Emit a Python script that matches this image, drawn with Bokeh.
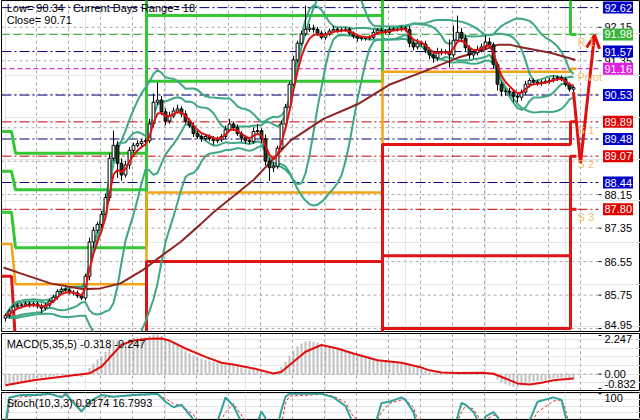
import numpy as np
from bokeh.plotting import figure
from bokeh.layouts import column
from bokeh.models import Range1d, Label, ColumnDataSource, Arrow, OpenHead
from bokeh.core.properties import value
from bokeh.embed import file_html
from bokeh.resources import INLINE

FONT = "Liberation Sans"

# ---------------- price data (one bar every 4 px in the reference) ----------------
first_open = 85.20
closes = [
    85.26, 85.37, 85.47, 85.51, 85.51, 85.54, 85.51, 85.54, 85.49, 85.44,
    85.51, 85.61, 85.70, 85.84, 85.89, 85.87, 85.82, 85.80, 85.73, 85.68,
    86.20, 87.02, 87.30, 87.44, 87.68, 88.08, 89.02, 89.33, 88.90, 88.62,
    88.86, 89.21, 89.33, 89.37, 89.42, 89.44, 89.84, 90.36, 90.41, 90.13,
    89.91, 90.03, 90.15, 90.20, 90.08, 89.91, 89.80, 89.61, 89.54, 89.49,
    89.54, 89.49, 89.44, 89.46, 89.54, 89.70, 89.84, 89.75, 89.61, 89.51,
    89.44, 89.42, 89.66, 89.68, 89.49, 88.95, 88.79, 88.83, 89.26, 89.84,
    90.24, 90.79, 91.37, 91.77, 91.99, 92.10, 92.13, 92.10, 92.01, 91.91,
    91.99, 92.06, 92.10, 92.08, 92.08, 92.10, 92.01, 91.94, 91.89, 91.89,
    91.89, 91.91, 92.03, 92.08, 92.06, 92.03, 92.10, 92.10, 92.10, 92.13,
    92.10, 91.77, 91.68, 91.77, 91.75, 91.61, 91.49, 91.42, 91.54, 91.56,
    91.56, 91.49, 91.84, 92.03, 91.89, 91.66, 91.49, 91.54, 91.61, 91.68,
    91.80, 91.73, 91.26, 90.79, 90.62, 90.62, 90.60, 90.50, 90.48, 90.60,
    90.79, 90.88, 90.84, 90.81, 90.84, 90.86, 90.88, 90.93, 90.95, 90.91,
    90.79, 90.67, 90.71]
wick_up = [
    .05, .04, .06, .05, .04, .05, .05, .04, .05, .06,
    .05, .04, .06, .05, .05, .04, .04, .05, .06, .05,
    .06, .10, .08, .06, .08, .10, .12, .35, .10, .12,
    .10, .08, .06, .08, .06, .06, .12, .20, .42, .10,
    .08, .10, .08, .10, .06, .08, .06, .08, .06, .05,
    .06, .05, .06, .08, .06, .10, .12, .06, .08, .06,
    .05, .06, .10, .15, .06, .10, .08, .10, .06, .08,
    .08, .06, .10, .06, .08, .57, .10, .08, .06, .06,
    .05, .06, .08, .05, .06, .06, .05, .04, .05, .04,
    .04, .05, .06, .05, .06, .05, .06, .05, .04, .06,
    .05, .08, .06, .10, .06, .08, .06, .10, .12, .08,
    .06, .30, .35, .40, .10, .08, .06, .06, .10, .08,
    .15, .10, .06, .06, .06, .06, .08, .06, .06, .06,
    .08, .06, .05, .06, .05, .05, .06, .08, .05, .05,
    .05, .04, .05]
wick_dn = [
    .08, .06, .05, .05, .06, .05, .06, .05, .06, .12,
    .06, .05, .05, .06, .05, .04, .05, .06, .05, .05,
    .06, .10, .15, .06, .10, .06, .08, .06, .35, .14,
    .06, .10, .06, .05, .06, .05, .06, .08, .06, .08,
    .10, .06, .05, .06, .08, .06, .05, .08, .06, .08,
    .05, .06, .10, .06, .05, .06, .05, .08, .06, .10,
    .08, .06, .05, .06, .10, .10, .31, .10, .06, .05,
    .06, .06, .05, .06, .05, .05, .06, .08, .06, .05,
    .06, .05, .05, .06, .05, .04, .05, .06, .08, .06,
    .06, .05, .04, .05, .06, .05, .05, .04, .05, .05,
    .05, .10, .08, .06, .05, .08, .10, .12, .08, .06,
    .06, .30, .06, .06, .10, .08, .10, .08, .06, .06,
    .06, .06, .10, .15, .12, .10, .08, .14, .12, .08,
    .06, .08, .06, .06, .06, .05, .06, .05, .06, .05,
    .06, .06, .08]

# long moving average: bar position, price
ma_bar = [-0.5, 3.75, 11.25, 19.5, 23.75, 28.75, 34.5, 38.75, 43.75, 48.75, 52, 62,
          71.25, 79.5, 88, 96.25, 104.5, 113, 118, 123, 126.25, 129.5, 136.25, 142.5]
ma_val = [86.41, 86.27, 86.03, 85.89, 85.91, 86.03, 86.36, 86.67, 87.02, 87.44, 87.73, 88.50,
          89.44, 89.96, 90.31, 90.79, 91.09, 91.42, 91.56, 91.73, 91.73, 91.66, 91.54, 91.37]

# daily pivot levels
day_start = [-1.5, 2.5, 35.25, 94.25, 141.25]
day_end = [1.5, 35.25, 94.25, 141.25, 142.75]
r3 = [89.66, 89.14, 95.17, 98.15, 94.07]
r2 = [88.71, 88.27, 92.43, 95.49, 93.25]
r1 = [87.73, 86.88, 90.86, 93.75, 91.98]
pp = [86.97, 86.01, 88.20, 91.09, 91.16]
s1 = [86.20, 84.62, 86.55, 89.35, 89.89]
s2 = [84.60, 83.75, 83.89, 86.69, 89.07]
s3 = [83.80, 82.88, 82.24, 84.95, 87.80]

# horizontal level lines with tags on the price scale
tag_vals = [92.62, 91.98, 91.57, 91.16, 90.53, 89.89, 89.48, 89.07, 88.44, 87.80]
tag_kind = ["mid", "r", "mid", "p", "mid", "s", "mid", "s", "mid", "s"]
lvl_names = ["R 1", "Pivot", "S 1", "S 2", "S 3"]
lvl_vals = [91.98, 91.16, 89.89, 89.07, 87.80]

# projected move arrow
fc_bar = [142, 143.75, 147.25]
fc_price = [90.60, 88.90, 91.96]

price_labels = [92.15, 91.35, 88.15, 87.35, 86.55, 85.75]
price_bottom_label = [84.95]
price_grid = [92.15, 91.35, 90.55, 89.75, 88.95, 88.15, 87.35, 86.55, 85.75, 84.95]

# MACD(5,35,5)
macd_hist = [
    -0.66, -0.62, -0.58, -0.52, -0.48, -0.42, -0.36, -0.30, -0.26, -0.24,
    -0.20, -0.16, -0.12, -0.08, -0.06, -0.06, -0.08, -0.10, -0.14, -0.16,
    0.02, 0.35, 0.62, 0.85, 1.05, 1.30, 1.70, 1.98, 1.95, 1.85,
    1.90, 2.02, 2.10, 2.12, 2.14, 2.15, 2.22, 2.30, 2.32, 2.22,
    2.05, 1.92, 1.80, 1.66, 1.50, 1.36, 1.22, 1.08, 0.98, 0.90,
    0.84, 0.78, 0.72, 0.66, 0.62, 0.60, 0.60, 0.55, 0.48, 0.40,
    0.33, 0.28, 0.28, 0.28, 0.22, 0.08, -0.04, -0.04, 0.12, 0.40,
    0.72, 1.05, 1.38, 1.62, 1.78, 1.88, 1.92, 1.90, 1.84, 1.76,
    1.70, 1.64, 1.56, 1.48, 1.42, 1.34, 1.26, 1.18, 1.10, 1.02,
    0.96, 0.92, 0.90, 0.88, 0.84, 0.80, 0.78, 0.76, 0.72, 0.68,
    0.64, 0.52, 0.42, 0.36, 0.30, 0.22, 0.14, 0.08, 0.06, 0.06,
    0.04, 0.02, 0.08, 0.14, 0.12, 0.06, 0.02, 0.02, 0.04, 0.06,
    0.10, 0.08, -0.06, -0.30, -0.48, -0.58, -0.66, -0.72, -0.74, -0.68,
    -0.56, -0.48, -0.44, -0.40, -0.38, -0.34, -0.30, -0.26, -0.24, -0.24,
    -0.27, -0.30, -0.318]
sig_bar = [0, 7, 15, 21, 24, 27, 29, 32, 36, 39, 41, 45, 50, 54, 57, 62, 67, 69, 72, 75,
           79, 83, 87, 93, 99, 104, 106, 109, 113, 119, 122, 125, 128, 131, 134, 137, 142]
sig_val = [-0.64, -0.35, -0.12, 0.05, 0.43, 1.20, 1.70, 1.95, 2.05, 2.07, 1.95, 1.49, 1.00,
           0.66, 0.56, 0.33, 0.04, 0.14, 0.72, 1.30, 1.69, 1.49, 1.20, 0.81, 0.66, 0.38, 0.22,
           0.10, 0.06, 0.08, 0.02, -0.25, -0.54, -0.60, -0.50, -0.35, -0.247]
macd_top_label = [2.247]
macd_zero_label = [0.0]
macd_bottom_label = [-0.832]

# Stoch(10,3,3)
st_bar = [0, 1, 4, 8, 11, 14, 15, 19, 21, 24, 27, 32, 38, 40, 42, 44, 47, 49, 52, 55,
          57, 60, 62, 64, 65, 67, 69, 70, 71, 79, 82, 85, 87, 92, 94, 96, 99, 100, 102, 103,
          112, 114, 115, 117, 119, 120, 122, 123, 125, 130, 133, 137, 139, 140, 142]
st_main = [50, 94, 98, 98, 100, 94, 100, 71, 87, 98, 95, 98, 100, 87, 78, 82, 58, 30, 35, 94,
           80, 40, 35, 71, 60, 20, 74, 95, 100, 100, 94, 80, 50, 40, 85, 87, 94, 90, 70, 45,
           40, 85, 82, 70, 45, 63, 70, 62, 30, 40, 87, 94, 90, 63, 0.9174]
st_sig = [45, 80, 95, 97, 99, 96, 98, 80, 82, 94, 95, 97, 99, 92, 84, 80, 66, 42, 34, 70,
          84, 55, 38, 55, 60, 40, 50, 85, 96, 99, 96, 86, 62, 45, 70, 84, 90, 90, 78, 58,
          42, 70, 80, 75, 55, 58, 65, 64, 42, 35, 70, 88, 90, 75, 16.7993]
st_top_label = [100]

# ---------------- derived series ----------------
n = len(closes)
bars = list(range(n))
opens = [first_open] + closes[:-1]
highs = [max(o, c) + u for o, c, u in zip(opens, closes, wick_up)]
lows = [min(o, c) - d for o, c, d in zip(opens, closes, wick_dn)]


def ema(vals, span):
    a = 2.0 / (span + 1)
    out = [vals[0]]
    for v in vals[1:]:
        out.append(out[-1] + a * (v - out[-1]))
    return out


def bands(vals, period, k):
    up, lo = [], []
    for i in range(len(vals)):
        w = np.array(vals[max(0, i - period + 1):i + 1])
        m, s = w.mean(), w.std()
        up.append(m + k * s)
        lo.append(m - k * s)
    return up, lo


def steps(levels):
    xs, ys = [], []
    for a, b, lv in zip(day_start, day_end, levels):
        xs += [a, b]
        ys += [lv, lv]
    return xs, ys


# ---------------- layout / scale helpers (4 px per bar) ----------------
GRID = "#A8A8A8"
X0, XP = -1.0, 148.25           # bar area; the price scale starts at XP
PX = 0.25                       # bars per pixel
xr = Range1d(X0, 158.75)
vgrid = [7.75 + 8 * k for k in range(19)]
XLAB = XP + 6 * PX
TAG_X = XP + 19.5 * PX
TAG_W = 30 * PX


def panel(h, y0, y1):
    f = figure(width=640, height=h, x_range=xr, y_range=Range1d(y0, y1),
               output_backend="svg", toolbar_location=None,
               x_axis_location=None, y_axis_location=None,
               min_border_left=1, min_border_right=0, min_border_top=0,
               min_border_bottom=1, background_fill_color="white",
               border_fill_color="white", outline_line_color="black")
    gx = [g for g in vgrid if g < XP]
    f.segment(x0=gx, y0=[y0] * len(gx), x1=gx, y1=[y1] * len(gx),
              line_color=GRID, line_dash="3 3", line_width=1)
    return f


def hgrid(f, vals):
    f.segment(x0=[X0] * len(vals), y0=vals, x1=[XP] * len(vals), y1=vals,
              line_color=GRID, line_dash="3 3", line_width=1)


def scale_text(f, vals, fmt, baseline):
    f.segment(x0=[XP] * len(vals), y0=vals, x1=[XP + 3 * PX] * len(vals), y1=vals,
              line_color="black", line_width=1)
    f.text(x=[XLAB] * len(vals), y=vals, text=[fmt % v for v in vals],
           text_font=value(FONT), text_font_size="11px", text_color="black",
           text_align="left", text_baseline=baseline)


# ---------------- main price panel ----------------
P_LO, P_HI = 84.88, 92.79
p = panel(332, P_LO, P_HI)
hgrid(p, price_grid)

line_col = {"mid": "#00007A", "r": "#33AA33", "p": "#C800C8", "s": "#C00000"}
line_dash = {"mid": "10 3 2 3", "r": "8 4", "p": "5 3", "s": "10 3 2 3"}
tag_col = {"mid": "#0000C8", "r": "#3CB43C", "p": "#E020E0", "s": "#E00000"}
for v, k in zip(tag_vals, tag_kind):
    p.segment(x0=[X0], y0=[v], x1=[XP], y1=[v], line_color=line_col[k],
              line_dash=line_dash[k], line_width=1)

for lv in (r3, r2, r1):
    xs, ys = steps(lv)
    p.line(xs, ys, line_color="#35C835", line_width=3)
xs, ys = steps(pp)
p.line(xs, ys, line_color="#F2A516", line_width=2.5)
for lv in (s1, s2, s3):
    xs, ys = steps(lv)
    p.line(xs, ys, line_color="#E01414", line_width=3)

bb_col = "#3FA783"
for per, k in ((20, 2.0), (10, 1.5)):
    up, lo = bands(closes, per, k)
    p.line(bars, up, line_color=bb_col, line_width=2)
    p.line(bars, lo, line_color=bb_col, line_width=2)

p.line(ma_bar, ma_val, line_color="#8E2424", line_width=2)

src = ColumnDataSource(dict(
    x=bars, h=highs, l=lows,
    top=[max(o, c) for o, c in zip(opens, closes)],
    bot=[min(o, c) for o, c in zip(opens, closes)],
    fill=["white" if c >= o else "#1f3d1f" for o, c in zip(opens, closes)]))
p.segment(x0="x", y0="l", x1="x", y1="h", source=src, line_color="black", line_width=1)
p.vbar(x="x", width=0.7, top="top", bottom="bot", fill_color="fill",
       line_color="black", line_width=1, source=src)

p.line(bars, ema(closes, 4), line_color="#E01010", line_width=2)

p.line(fc_bar[:2], fc_price[:2], line_color="#E01010", line_width=3)
p.add_layout(Arrow(x_start=fc_bar[1], y_start=fc_price[1], x_end=fc_bar[2], y_end=fc_price[2],
                   line_color="#E01010", line_width=3,
                   end=OpenHead(size=13, line_color="#E01010", line_width=3)))

for name, v in zip(lvl_names, lvl_vals):
    p.add_layout(Label(x=143.0, y=v, y_offset=-2, text=name, text_font=FONT,
                       text_font_size="11px", text_color="#EDC26E", text_baseline="top"))

# price scale: tick labels, then the coloured level tags on top
scale_text(p, price_labels, "%.2f", "middle")
scale_text(p, price_bottom_label, "%.2f", "bottom")
p.rect(x=[TAG_X] * len(tag_vals), y=tag_vals, width=TAG_W, height=12, height_units="screen",
       fill_color=[tag_col[k] for k in tag_kind], line_color=None)
p.text(x=[XLAB] * len(tag_vals), y=tag_vals, text=["%.2f" % v for v in tag_vals],
       text_font=value(FONT), text_font_size="11px", text_color="white",
       text_align="left", text_baseline="middle")

p.add_layout(Label(x=0.3, y=P_HI, y_offset=-1,
                   text="Low= 90.34\u00a0\u00a0\u00a0Current Days Range= 18",
                   text_font=FONT, text_font_size="11px", text_color="black",
                   text_baseline="top"))
p.add_layout(Label(x=0.3, y=P_HI, y_offset=-13, text="Close= 90.71",
                   text_font=FONT, text_font_size="11px", text_color="black",
                   text_baseline="top"))

# ---------------- MACD panel ----------------
M_LO, M_HI = -0.95, 2.36
m = panel(58, M_LO, M_HI)
hgrid(m, macd_zero_label)
m.vbar(x=bars, width=0.5, top=macd_hist, bottom=0, fill_color="#C0C0C0", line_color=None)
m.line(sig_bar, sig_val, line_color="#E01010", line_width=2)
scale_text(m, macd_top_label, "%.3f", "top")
scale_text(m, macd_zero_label, "%.2f", "middle")
scale_text(m, macd_bottom_label, "%.3f", "bottom")
m.add_layout(Label(x=0.3, y=M_HI, y_offset=-4, text="MACD(5,35,5) -0.318 -0.247",
                   text_font=FONT, text_font_size="11px", text_color="black",
                   text_baseline="top"))

# ---------------- Stochastic panel ----------------
S_LO, S_HI = 58, 102
s = panel(28, S_LO, S_HI)
s.line(st_bar, st_sig, line_color="#E03030", line_width=1, line_dash="3 2")
s.line(st_bar, st_main, line_color="#2FA39A", line_width=2)
scale_text(s, st_top_label, "%d", "top")
s.add_layout(Label(x=0.3, y=S_HI, y_offset=-4, text="Stoch(10,3,3) 0.9174 16.7993",
                   text_font=FONT, text_font_size="11px", text_color="black",
                   text_baseline="top"))

layout = column(p, m, s, spacing=1)
open("out.html", "w").write(file_html(layout, INLINE))
